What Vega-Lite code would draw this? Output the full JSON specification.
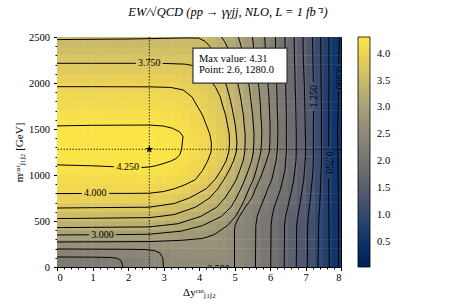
{
"$schema":"https://vega.github.io/schema/vega-lite/v6.json",
"width":284,"height":230,
"autosize":{"type":"none"},
"padding":{"left":57,"top":37,"right":116,"bottom":38},
"background":"white",
"config":{"view":{"stroke":"black","strokeWidth":1},"font":"Liberation Serif",
"axis":{"labelFont":"Liberation Serif","labelFontSize":10.5,"labelColor":"black","titleFont":"Liberation Serif","titleFontSize":11,"titleFontWeight":"normal","titleColor":"black","tickColor":"black","domainColor":"black","grid":false,"tickSize":3.5},
"legend":{"labelFont":"Liberation Serif"}},
"title":{"text":"EW/√QCD (pp → γγjj, NLO, L = 1 fb⁻¹)","font":"Liberation Serif","fontSize":12.5,"fontStyle":"italic","fontWeight":"normal","anchor":"middle","dx":29,"offset":14,"color":"black"},
"datasets":{
"grid":[
{"x":0.125,"y":50,"v":2.15},{"x":0.375,"y":50,"v":2.16},{"x":0.625,"y":50,"v":2.17},{"x":0.875,"y":50,"v":2.18},{"x":1.125,"y":50,"v":2.19},{"x":1.375,"y":50,"v":2.21},{"x":1.625,"y":50,"v":2.23},{"x":1.875,"y":50,"v":2.26},{"x":2.125,"y":50,"v":2.3},{"x":2.375,"y":50,"v":2.35},{"x":2.625,"y":50,"v":2.41},{"x":2.875,"y":50,"v":2.47},{"x":3.125,"y":50,"v":2.52},{"x":3.375,"y":50,"v":2.54},{"x":3.625,"y":50,"v":2.55},{"x":3.875,"y":50,"v":2.56},{"x":4.125,"y":50,"v":2.56},{"x":4.375,"y":50,"v":2.56},{"x":4.625,"y":50,"v":2.55},{"x":4.875,"y":50,"v":2.52},{"x":5.125,"y":50,"v":2.45},{"x":5.375,"y":50,"v":2.34},{"x":5.625,"y":50,"v":2.23},{"x":5.875,"y":50,"v":2.08},{"x":6.125,"y":50,"v":1.93},{"x":6.375,"y":50,"v":1.77},{"x":6.625,"y":50,"v":1.58},{"x":6.875,"y":50,"v":1.39},{"x":7.125,"y":50,"v":1.19},{"x":7.375,"y":50,"v":0.98},{"x":7.625,"y":50,"v":0.78},{"x":7.875,"y":50,"v":0.55},
{"x":0.125,"y":150,"v":2.37},{"x":0.375,"y":150,"v":2.37},{"x":0.625,"y":150,"v":2.38},{"x":0.875,"y":150,"v":2.38},{"x":1.125,"y":150,"v":2.39},{"x":1.375,"y":150,"v":2.4},{"x":1.625,"y":150,"v":2.41},{"x":1.875,"y":150,"v":2.42},{"x":2.125,"y":150,"v":2.44},{"x":2.375,"y":150,"v":2.46},{"x":2.625,"y":150,"v":2.48},{"x":2.875,"y":150,"v":2.5},{"x":3.125,"y":150,"v":2.55},{"x":3.375,"y":150,"v":2.58},{"x":3.625,"y":150,"v":2.6},{"x":3.875,"y":150,"v":2.62},{"x":4.125,"y":150,"v":2.63},{"x":4.375,"y":150,"v":2.63},{"x":4.625,"y":150,"v":2.62},{"x":4.875,"y":150,"v":2.56},{"x":5.125,"y":150,"v":2.45},{"x":5.375,"y":150,"v":2.34},{"x":5.625,"y":150,"v":2.23},{"x":5.875,"y":150,"v":2.08},{"x":6.125,"y":150,"v":1.93},{"x":6.375,"y":150,"v":1.77},{"x":6.625,"y":150,"v":1.58},{"x":6.875,"y":150,"v":1.39},{"x":7.125,"y":150,"v":1.19},{"x":7.375,"y":150,"v":0.98},{"x":7.625,"y":150,"v":0.78},{"x":7.875,"y":150,"v":0.55},
{"x":0.125,"y":250,"v":2.68},{"x":0.375,"y":250,"v":2.68},{"x":0.625,"y":250,"v":2.68},{"x":0.875,"y":250,"v":2.68},{"x":1.125,"y":250,"v":2.68},{"x":1.375,"y":250,"v":2.68},{"x":1.625,"y":250,"v":2.68},{"x":1.875,"y":250,"v":2.68},{"x":2.125,"y":250,"v":2.68},{"x":2.375,"y":250,"v":2.68},{"x":2.625,"y":250,"v":2.68},{"x":2.875,"y":250,"v":2.69},{"x":3.125,"y":250,"v":2.7},{"x":3.375,"y":250,"v":2.71},{"x":3.625,"y":250,"v":2.71},{"x":3.875,"y":250,"v":2.71},{"x":4.125,"y":250,"v":2.71},{"x":4.375,"y":250,"v":2.7},{"x":4.625,"y":250,"v":2.66},{"x":4.875,"y":250,"v":2.57},{"x":5.125,"y":250,"v":2.45},{"x":5.375,"y":250,"v":2.34},{"x":5.625,"y":250,"v":2.23},{"x":5.875,"y":250,"v":2.08},{"x":6.125,"y":250,"v":1.93},{"x":6.375,"y":250,"v":1.77},{"x":6.625,"y":250,"v":1.58},{"x":6.875,"y":250,"v":1.39},{"x":7.125,"y":250,"v":1.19},{"x":7.375,"y":250,"v":0.98},{"x":7.625,"y":250,"v":0.78},{"x":7.875,"y":250,"v":0.55},
{"x":0.125,"y":350,"v":3},{"x":0.375,"y":350,"v":3},{"x":0.625,"y":350,"v":3},{"x":0.875,"y":350,"v":3},{"x":1.125,"y":350,"v":3},{"x":1.375,"y":350,"v":2.99},{"x":1.625,"y":350,"v":2.99},{"x":1.875,"y":350,"v":2.99},{"x":2.125,"y":350,"v":2.99},{"x":2.375,"y":350,"v":2.98},{"x":2.625,"y":350,"v":2.98},{"x":2.875,"y":350,"v":2.96},{"x":3.125,"y":350,"v":2.93},{"x":3.375,"y":350,"v":2.89},{"x":3.625,"y":350,"v":2.86},{"x":3.875,"y":350,"v":2.84},{"x":4.125,"y":350,"v":2.81},{"x":4.375,"y":350,"v":2.76},{"x":4.625,"y":350,"v":2.68},{"x":4.875,"y":350,"v":2.57},{"x":5.125,"y":350,"v":2.45},{"x":5.375,"y":350,"v":2.34},{"x":5.625,"y":350,"v":2.23},{"x":5.875,"y":350,"v":2.08},{"x":6.125,"y":350,"v":1.93},{"x":6.375,"y":350,"v":1.77},{"x":6.625,"y":350,"v":1.58},{"x":6.875,"y":350,"v":1.39},{"x":7.125,"y":350,"v":1.19},{"x":7.375,"y":350,"v":0.98},{"x":7.625,"y":350,"v":0.78},{"x":7.875,"y":350,"v":0.55},
{"x":0.125,"y":450,"v":3.31},{"x":0.375,"y":450,"v":3.31},{"x":0.625,"y":450,"v":3.31},{"x":0.875,"y":450,"v":3.31},{"x":1.125,"y":450,"v":3.3},{"x":1.375,"y":450,"v":3.3},{"x":1.625,"y":450,"v":3.3},{"x":1.875,"y":450,"v":3.29},{"x":2.125,"y":450,"v":3.29},{"x":2.375,"y":450,"v":3.28},{"x":2.625,"y":450,"v":3.27},{"x":2.875,"y":450,"v":3.26},{"x":3.125,"y":450,"v":3.21},{"x":3.375,"y":450,"v":3.16},{"x":3.625,"y":450,"v":3.1},{"x":3.875,"y":450,"v":3.05},{"x":4.125,"y":450,"v":2.99},{"x":4.375,"y":450,"v":2.9},{"x":4.625,"y":450,"v":2.81},{"x":4.875,"y":450,"v":2.66},{"x":5.125,"y":450,"v":2.45},{"x":5.375,"y":450,"v":2.34},{"x":5.625,"y":450,"v":2.23},{"x":5.875,"y":450,"v":2.08},{"x":6.125,"y":450,"v":1.93},{"x":6.375,"y":450,"v":1.77},{"x":6.625,"y":450,"v":1.58},{"x":6.875,"y":450,"v":1.39},{"x":7.125,"y":450,"v":1.19},{"x":7.375,"y":450,"v":0.98},{"x":7.625,"y":450,"v":0.78},{"x":7.875,"y":450,"v":0.55},
{"x":0.125,"y":550,"v":3.55},{"x":0.375,"y":550,"v":3.55},{"x":0.625,"y":550,"v":3.55},{"x":0.875,"y":550,"v":3.55},{"x":1.125,"y":550,"v":3.55},{"x":1.375,"y":550,"v":3.54},{"x":1.625,"y":550,"v":3.54},{"x":1.875,"y":550,"v":3.54},{"x":2.125,"y":550,"v":3.53},{"x":2.375,"y":550,"v":3.53},{"x":2.625,"y":550,"v":3.52},{"x":2.875,"y":550,"v":3.5},{"x":3.125,"y":550,"v":3.45},{"x":3.375,"y":550,"v":3.4},{"x":3.625,"y":550,"v":3.35},{"x":3.875,"y":550,"v":3.29},{"x":4.125,"y":550,"v":3.22},{"x":4.375,"y":550,"v":3.11},{"x":4.625,"y":550,"v":3},{"x":4.875,"y":550,"v":2.85},{"x":5.125,"y":550,"v":2.52},{"x":5.375,"y":550,"v":2.38},{"x":5.625,"y":550,"v":2.26},{"x":5.875,"y":550,"v":2.11},{"x":6.125,"y":550,"v":1.96},{"x":6.375,"y":550,"v":1.79},{"x":6.625,"y":550,"v":1.61},{"x":6.875,"y":550,"v":1.42},{"x":7.125,"y":550,"v":1.21},{"x":7.375,"y":550,"v":1},{"x":7.625,"y":550,"v":0.79},{"x":7.875,"y":550,"v":0.55},
{"x":0.125,"y":650,"v":3.76},{"x":0.375,"y":650,"v":3.76},{"x":0.625,"y":650,"v":3.76},{"x":0.875,"y":650,"v":3.76},{"x":1.125,"y":650,"v":3.76},{"x":1.375,"y":650,"v":3.76},{"x":1.625,"y":650,"v":3.76},{"x":1.875,"y":650,"v":3.76},{"x":2.125,"y":650,"v":3.75},{"x":2.375,"y":650,"v":3.75},{"x":2.625,"y":650,"v":3.75},{"x":2.875,"y":650,"v":3.7},{"x":3.125,"y":650,"v":3.65},{"x":3.375,"y":650,"v":3.6},{"x":3.625,"y":650,"v":3.55},{"x":3.875,"y":650,"v":3.5},{"x":4.125,"y":650,"v":3.41},{"x":4.375,"y":650,"v":3.3},{"x":4.625,"y":650,"v":3.17},{"x":4.875,"y":650,"v":3.02},{"x":5.125,"y":650,"v":2.81},{"x":5.375,"y":650,"v":2.46},{"x":5.625,"y":650,"v":2.31},{"x":5.875,"y":650,"v":2.16},{"x":6.125,"y":650,"v":2},{"x":6.375,"y":650,"v":1.83},{"x":6.625,"y":650,"v":1.66},{"x":6.875,"y":650,"v":1.46},{"x":7.125,"y":650,"v":1.24},{"x":7.375,"y":650,"v":1.02},{"x":7.625,"y":650,"v":0.78},{"x":7.875,"y":650,"v":0.55},
{"x":0.125,"y":750,"v":3.93},{"x":0.375,"y":750,"v":3.93},{"x":0.625,"y":750,"v":3.93},{"x":0.875,"y":750,"v":3.93},{"x":1.125,"y":750,"v":3.93},{"x":1.375,"y":750,"v":3.93},{"x":1.625,"y":750,"v":3.93},{"x":1.875,"y":750,"v":3.93},{"x":2.125,"y":750,"v":3.93},{"x":2.375,"y":750,"v":3.93},{"x":2.625,"y":750,"v":3.92},{"x":2.875,"y":750,"v":3.9},{"x":3.125,"y":750,"v":3.87},{"x":3.375,"y":750,"v":3.82},{"x":3.625,"y":750,"v":3.77},{"x":3.875,"y":750,"v":3.69},{"x":4.125,"y":750,"v":3.58},{"x":4.375,"y":750,"v":3.46},{"x":4.625,"y":750,"v":3.31},{"x":4.875,"y":750,"v":3.14},{"x":5.125,"y":750,"v":2.94},{"x":5.375,"y":750,"v":2.66},{"x":5.625,"y":750,"v":2.42},{"x":5.875,"y":750,"v":2.23},{"x":6.125,"y":750,"v":2.06},{"x":6.375,"y":750,"v":1.88},{"x":6.625,"y":750,"v":1.7},{"x":6.875,"y":750,"v":1.49},{"x":7.125,"y":750,"v":1.26},{"x":7.375,"y":750,"v":1.03},{"x":7.625,"y":750,"v":0.78},{"x":7.875,"y":750,"v":0.55},
{"x":0.125,"y":850,"v":4.05},{"x":0.375,"y":850,"v":4.05},{"x":0.625,"y":850,"v":4.05},{"x":0.875,"y":850,"v":4.05},{"x":1.125,"y":850,"v":4.05},{"x":1.375,"y":850,"v":4.05},{"x":1.625,"y":850,"v":4.05},{"x":1.875,"y":850,"v":4.05},{"x":2.125,"y":850,"v":4.05},{"x":2.375,"y":850,"v":4.05},{"x":2.625,"y":850,"v":4.04},{"x":2.875,"y":850,"v":4.02},{"x":3.125,"y":850,"v":4.01},{"x":3.375,"y":850,"v":3.98},{"x":3.625,"y":850,"v":3.91},{"x":3.875,"y":850,"v":3.84},{"x":4.125,"y":850,"v":3.77},{"x":4.375,"y":850,"v":3.62},{"x":4.625,"y":850,"v":3.44},{"x":4.875,"y":850,"v":3.27},{"x":5.125,"y":850,"v":3.05},{"x":5.375,"y":850,"v":2.79},{"x":5.625,"y":850,"v":2.47},{"x":5.875,"y":850,"v":2.3},{"x":6.125,"y":850,"v":2.13},{"x":6.375,"y":850,"v":1.94},{"x":6.625,"y":850,"v":1.74},{"x":6.875,"y":850,"v":1.53},{"x":7.125,"y":850,"v":1.29},{"x":7.375,"y":850,"v":1.05},{"x":7.625,"y":850,"v":0.79},{"x":7.875,"y":850,"v":0.55},
{"x":0.125,"y":950,"v":4.14},{"x":0.375,"y":950,"v":4.14},{"x":0.625,"y":950,"v":4.14},{"x":0.875,"y":950,"v":4.14},{"x":1.125,"y":950,"v":4.14},{"x":1.375,"y":950,"v":4.14},{"x":1.625,"y":950,"v":4.14},{"x":1.875,"y":950,"v":4.14},{"x":2.125,"y":950,"v":4.145},{"x":2.375,"y":950,"v":4.15},{"x":2.625,"y":950,"v":4.15},{"x":2.875,"y":950,"v":4.13},{"x":3.125,"y":950,"v":4.1},{"x":3.375,"y":950,"v":4.07},{"x":3.625,"y":950,"v":4.03},{"x":3.875,"y":950,"v":4},{"x":4.125,"y":950,"v":3.9},{"x":4.375,"y":950,"v":3.78},{"x":4.625,"y":950,"v":3.58},{"x":4.875,"y":950,"v":3.37},{"x":5.125,"y":950,"v":3.17},{"x":5.375,"y":950,"v":2.91},{"x":5.625,"y":950,"v":2.62},{"x":5.875,"y":950,"v":2.38},{"x":6.125,"y":950,"v":2.19},{"x":6.375,"y":950,"v":1.99},{"x":6.625,"y":950,"v":1.79},{"x":6.875,"y":950,"v":1.56},{"x":7.125,"y":950,"v":1.32},{"x":7.375,"y":950,"v":1.06},{"x":7.625,"y":950,"v":0.78},{"x":7.875,"y":950,"v":0.56},
{"x":0.125,"y":1050,"v":4.22},{"x":0.375,"y":1050,"v":4.22},{"x":0.625,"y":1050,"v":4.22},{"x":0.875,"y":1050,"v":4.22},{"x":1.125,"y":1050,"v":4.225},{"x":1.375,"y":1050,"v":4.23},{"x":1.625,"y":1050,"v":4.23},{"x":1.875,"y":1050,"v":4.235},{"x":2.125,"y":1050,"v":4.24},{"x":2.375,"y":1050,"v":4.24},{"x":2.625,"y":1050,"v":4.24},{"x":2.875,"y":1050,"v":4.23},{"x":3.125,"y":1050,"v":4.21},{"x":3.375,"y":1050,"v":4.17},{"x":3.625,"y":1050,"v":4.12},{"x":3.875,"y":1050,"v":4.06},{"x":4.125,"y":1050,"v":3.99},{"x":4.375,"y":1050,"v":3.87},{"x":4.625,"y":1050,"v":3.75},{"x":4.875,"y":1050,"v":3.48},{"x":5.125,"y":1050,"v":3.27},{"x":5.375,"y":1050,"v":3.02},{"x":5.625,"y":1050,"v":2.73},{"x":5.875,"y":1050,"v":2.45},{"x":6.125,"y":1050,"v":2.24},{"x":6.375,"y":1050,"v":2.04},{"x":6.625,"y":1050,"v":1.82},{"x":6.875,"y":1050,"v":1.58},{"x":7.125,"y":1050,"v":1.34},{"x":7.375,"y":1050,"v":1.07},{"x":7.625,"y":1050,"v":0.77},{"x":7.875,"y":1050,"v":0.56},
{"x":0.125,"y":1150,"v":4.27},{"x":0.375,"y":1150,"v":4.27},{"x":0.625,"y":1150,"v":4.27},{"x":0.875,"y":1150,"v":4.27},{"x":1.125,"y":1150,"v":4.275},{"x":1.375,"y":1150,"v":4.275},{"x":1.625,"y":1150,"v":4.28},{"x":1.875,"y":1150,"v":4.28},{"x":2.125,"y":1150,"v":4.285},{"x":2.375,"y":1150,"v":4.29},{"x":2.625,"y":1150,"v":4.29},{"x":2.875,"y":1150,"v":4.28},{"x":3.125,"y":1150,"v":4.26},{"x":3.375,"y":1150,"v":4.21},{"x":3.625,"y":1150,"v":4.15},{"x":3.875,"y":1150,"v":4.09},{"x":4.125,"y":1150,"v":4.03},{"x":4.375,"y":1150,"v":3.94},{"x":4.625,"y":1150,"v":3.82},{"x":4.875,"y":1150,"v":3.61},{"x":5.125,"y":1150,"v":3.36},{"x":5.375,"y":1150,"v":3.11},{"x":5.625,"y":1150,"v":2.82},{"x":5.875,"y":1150,"v":2.53},{"x":6.125,"y":1150,"v":2.29},{"x":6.375,"y":1150,"v":2.06},{"x":6.625,"y":1150,"v":1.85},{"x":6.875,"y":1150,"v":1.61},{"x":7.125,"y":1150,"v":1.35},{"x":7.375,"y":1150,"v":1.08},{"x":7.625,"y":1150,"v":0.78},{"x":7.875,"y":1150,"v":0.55},
{"x":0.125,"y":1250,"v":4.3},{"x":0.375,"y":1250,"v":4.3},{"x":0.625,"y":1250,"v":4.3},{"x":0.875,"y":1250,"v":4.3},{"x":1.125,"y":1250,"v":4.3},{"x":1.375,"y":1250,"v":4.3},{"x":1.625,"y":1250,"v":4.3},{"x":1.875,"y":1250,"v":4.3},{"x":2.125,"y":1250,"v":4.305},{"x":2.375,"y":1250,"v":4.31},{"x":2.625,"y":1250,"v":4.31},{"x":2.875,"y":1250,"v":4.3},{"x":3.125,"y":1250,"v":4.285},{"x":3.375,"y":1250,"v":4.26},{"x":3.625,"y":1250,"v":4.22},{"x":3.875,"y":1250,"v":4.15},{"x":4.125,"y":1250,"v":4.08},{"x":4.375,"y":1250,"v":3.99},{"x":4.625,"y":1250,"v":3.87},{"x":4.875,"y":1250,"v":3.71},{"x":5.125,"y":1250,"v":3.42},{"x":5.375,"y":1250,"v":3.16},{"x":5.625,"y":1250,"v":2.89},{"x":5.875,"y":1250,"v":2.62},{"x":6.125,"y":1250,"v":2.34},{"x":6.375,"y":1250,"v":2.08},{"x":6.625,"y":1250,"v":1.85},{"x":6.875,"y":1250,"v":1.62},{"x":7.125,"y":1250,"v":1.36},{"x":7.375,"y":1250,"v":1.08},{"x":7.625,"y":1250,"v":0.78},{"x":7.875,"y":1250,"v":0.54},
{"x":0.125,"y":1350,"v":4.3},{"x":0.375,"y":1350,"v":4.3},{"x":0.625,"y":1350,"v":4.3},{"x":0.875,"y":1350,"v":4.3},{"x":1.125,"y":1350,"v":4.3},{"x":1.375,"y":1350,"v":4.3},{"x":1.625,"y":1350,"v":4.3},{"x":1.875,"y":1350,"v":4.3},{"x":2.125,"y":1350,"v":4.305},{"x":2.375,"y":1350,"v":4.31},{"x":2.625,"y":1350,"v":4.31},{"x":2.875,"y":1350,"v":4.3},{"x":3.125,"y":1350,"v":4.285},{"x":3.375,"y":1350,"v":4.265},{"x":3.625,"y":1350,"v":4.22},{"x":3.875,"y":1350,"v":4.15},{"x":4.125,"y":1350,"v":4.08},{"x":4.375,"y":1350,"v":3.99},{"x":4.625,"y":1350,"v":3.87},{"x":4.875,"y":1350,"v":3.73},{"x":5.125,"y":1350,"v":3.44},{"x":5.375,"y":1350,"v":3.17},{"x":5.625,"y":1350,"v":2.9},{"x":5.875,"y":1350,"v":2.63},{"x":6.125,"y":1350,"v":2.35},{"x":6.375,"y":1350,"v":2.09},{"x":6.625,"y":1350,"v":1.85},{"x":6.875,"y":1350,"v":1.62},{"x":7.125,"y":1350,"v":1.36},{"x":7.375,"y":1350,"v":1.08},{"x":7.625,"y":1350,"v":0.78},{"x":7.875,"y":1350,"v":0.54},
{"x":0.125,"y":1450,"v":4.28},{"x":0.375,"y":1450,"v":4.28},{"x":0.625,"y":1450,"v":4.28},{"x":0.875,"y":1450,"v":4.28},{"x":1.125,"y":1450,"v":4.28},{"x":1.375,"y":1450,"v":4.28},{"x":1.625,"y":1450,"v":4.28},{"x":1.875,"y":1450,"v":4.28},{"x":2.125,"y":1450,"v":4.285},{"x":2.375,"y":1450,"v":4.29},{"x":2.625,"y":1450,"v":4.29},{"x":2.875,"y":1450,"v":4.28},{"x":3.125,"y":1450,"v":4.27},{"x":3.375,"y":1450,"v":4.25},{"x":3.625,"y":1450,"v":4.19},{"x":3.875,"y":1450,"v":4.12},{"x":4.125,"y":1450,"v":4.05},{"x":4.375,"y":1450,"v":3.97},{"x":4.625,"y":1450,"v":3.85},{"x":4.875,"y":1450,"v":3.72},{"x":5.125,"y":1450,"v":3.44},{"x":5.375,"y":1450,"v":3.17},{"x":5.625,"y":1450,"v":2.91},{"x":5.875,"y":1450,"v":2.64},{"x":6.125,"y":1450,"v":2.36},{"x":6.375,"y":1450,"v":2.09},{"x":6.625,"y":1450,"v":1.85},{"x":6.875,"y":1450,"v":1.62},{"x":7.125,"y":1450,"v":1.36},{"x":7.375,"y":1450,"v":1.08},{"x":7.625,"y":1450,"v":0.78},{"x":7.875,"y":1450,"v":0.54},
{"x":0.125,"y":1550,"v":4.24},{"x":0.375,"y":1550,"v":4.24},{"x":0.625,"y":1550,"v":4.24},{"x":0.875,"y":1550,"v":4.24},{"x":1.125,"y":1550,"v":4.24},{"x":1.375,"y":1550,"v":4.24},{"x":1.625,"y":1550,"v":4.24},{"x":1.875,"y":1550,"v":4.24},{"x":2.125,"y":1550,"v":4.24},{"x":2.375,"y":1550,"v":4.24},{"x":2.625,"y":1550,"v":4.24},{"x":2.875,"y":1550,"v":4.24},{"x":3.125,"y":1550,"v":4.23},{"x":3.375,"y":1550,"v":4.2},{"x":3.625,"y":1550,"v":4.15},{"x":3.875,"y":1550,"v":4.08},{"x":4.125,"y":1550,"v":4.02},{"x":4.375,"y":1550,"v":3.93},{"x":4.625,"y":1550,"v":3.82},{"x":4.875,"y":1550,"v":3.66},{"x":5.125,"y":1550,"v":3.4},{"x":5.375,"y":1550,"v":3.15},{"x":5.625,"y":1550,"v":2.9},{"x":5.875,"y":1550,"v":2.64},{"x":6.125,"y":1550,"v":2.36},{"x":6.375,"y":1550,"v":2.09},{"x":6.625,"y":1550,"v":1.85},{"x":6.875,"y":1550,"v":1.62},{"x":7.125,"y":1550,"v":1.36},{"x":7.375,"y":1550,"v":1.08},{"x":7.625,"y":1550,"v":0.78},{"x":7.875,"y":1550,"v":0.54},
{"x":0.125,"y":1650,"v":4.19},{"x":0.375,"y":1650,"v":4.19},{"x":0.625,"y":1650,"v":4.19},{"x":0.875,"y":1650,"v":4.19},{"x":1.125,"y":1650,"v":4.19},{"x":1.375,"y":1650,"v":4.19},{"x":1.625,"y":1650,"v":4.19},{"x":1.875,"y":1650,"v":4.19},{"x":2.125,"y":1650,"v":4.19},{"x":2.375,"y":1650,"v":4.19},{"x":2.625,"y":1650,"v":4.19},{"x":2.875,"y":1650,"v":4.19},{"x":3.125,"y":1650,"v":4.18},{"x":3.375,"y":1650,"v":4.15},{"x":3.625,"y":1650,"v":4.1},{"x":3.875,"y":1650,"v":4.05},{"x":4.125,"y":1650,"v":3.99},{"x":4.375,"y":1650,"v":3.89},{"x":4.625,"y":1650,"v":3.8},{"x":4.875,"y":1650,"v":3.61},{"x":5.125,"y":1650,"v":3.36},{"x":5.375,"y":1650,"v":3.12},{"x":5.625,"y":1650,"v":2.87},{"x":5.875,"y":1650,"v":2.61},{"x":6.125,"y":1650,"v":2.35},{"x":6.375,"y":1650,"v":2.09},{"x":6.625,"y":1650,"v":1.85},{"x":6.875,"y":1650,"v":1.62},{"x":7.125,"y":1650,"v":1.36},{"x":7.375,"y":1650,"v":1.08},{"x":7.625,"y":1650,"v":0.78},{"x":7.875,"y":1650,"v":0.55},
{"x":0.125,"y":1750,"v":4.13},{"x":0.375,"y":1750,"v":4.13},{"x":0.625,"y":1750,"v":4.13},{"x":0.875,"y":1750,"v":4.13},{"x":1.125,"y":1750,"v":4.13},{"x":1.375,"y":1750,"v":4.13},{"x":1.625,"y":1750,"v":4.13},{"x":1.875,"y":1750,"v":4.13},{"x":2.125,"y":1750,"v":4.13},{"x":2.375,"y":1750,"v":4.13},{"x":2.625,"y":1750,"v":4.13},{"x":2.875,"y":1750,"v":4.13},{"x":3.125,"y":1750,"v":4.12},{"x":3.375,"y":1750,"v":4.09},{"x":3.625,"y":1750,"v":4.05},{"x":3.875,"y":1750,"v":4.01},{"x":4.125,"y":1750,"v":3.94},{"x":4.375,"y":1750,"v":3.85},{"x":4.625,"y":1750,"v":3.76},{"x":4.875,"y":1750,"v":3.55},{"x":5.125,"y":1750,"v":3.33},{"x":5.375,"y":1750,"v":3.1},{"x":5.625,"y":1750,"v":2.86},{"x":5.875,"y":1750,"v":2.6},{"x":6.125,"y":1750,"v":2.33},{"x":6.375,"y":1750,"v":2.08},{"x":6.625,"y":1750,"v":1.84},{"x":6.875,"y":1750,"v":1.6},{"x":7.125,"y":1750,"v":1.35},{"x":7.375,"y":1750,"v":1.08},{"x":7.625,"y":1750,"v":0.78},{"x":7.875,"y":1750,"v":0.55},
{"x":0.125,"y":1850,"v":4.07},{"x":0.375,"y":1850,"v":4.07},{"x":0.625,"y":1850,"v":4.07},{"x":0.875,"y":1850,"v":4.07},{"x":1.125,"y":1850,"v":4.07},{"x":1.375,"y":1850,"v":4.07},{"x":1.625,"y":1850,"v":4.07},{"x":1.875,"y":1850,"v":4.07},{"x":2.125,"y":1850,"v":4.07},{"x":2.375,"y":1850,"v":4.07},{"x":2.625,"y":1850,"v":4.07},{"x":2.875,"y":1850,"v":4.07},{"x":3.125,"y":1850,"v":4.06},{"x":3.375,"y":1850,"v":4.05},{"x":3.625,"y":1850,"v":4.02},{"x":3.875,"y":1850,"v":3.98},{"x":4.125,"y":1850,"v":3.9},{"x":4.375,"y":1850,"v":3.82},{"x":4.625,"y":1850,"v":3.73},{"x":4.875,"y":1850,"v":3.49},{"x":5.125,"y":1850,"v":3.29},{"x":5.375,"y":1850,"v":3.07},{"x":5.625,"y":1850,"v":2.83},{"x":5.875,"y":1850,"v":2.59},{"x":6.125,"y":1850,"v":2.32},{"x":6.375,"y":1850,"v":2.07},{"x":6.625,"y":1850,"v":1.84},{"x":6.875,"y":1850,"v":1.6},{"x":7.125,"y":1850,"v":1.35},{"x":7.375,"y":1850,"v":1.08},{"x":7.625,"y":1850,"v":0.78},{"x":7.875,"y":1850,"v":0.55},
{"x":0.125,"y":1950,"v":4},{"x":0.375,"y":1950,"v":4},{"x":0.625,"y":1950,"v":4},{"x":0.875,"y":1950,"v":4},{"x":1.125,"y":1950,"v":4},{"x":1.375,"y":1950,"v":4},{"x":1.625,"y":1950,"v":4},{"x":1.875,"y":1950,"v":4},{"x":2.125,"y":1950,"v":4},{"x":2.375,"y":1950,"v":4},{"x":2.625,"y":1950,"v":4},{"x":2.875,"y":1950,"v":4},{"x":3.125,"y":1950,"v":4},{"x":3.375,"y":1950,"v":3.99},{"x":3.625,"y":1950,"v":3.93},{"x":3.875,"y":1950,"v":3.88},{"x":4.125,"y":1950,"v":3.82},{"x":4.375,"y":1950,"v":3.77},{"x":4.625,"y":1950,"v":3.62},{"x":4.875,"y":1950,"v":3.43},{"x":5.125,"y":1950,"v":3.25},{"x":5.375,"y":1950,"v":3.04},{"x":5.625,"y":1950,"v":2.81},{"x":5.875,"y":1950,"v":2.57},{"x":6.125,"y":1950,"v":2.31},{"x":6.375,"y":1950,"v":2.07},{"x":6.625,"y":1950,"v":1.83},{"x":6.875,"y":1950,"v":1.59},{"x":7.125,"y":1950,"v":1.34},{"x":7.375,"y":1950,"v":1.07},{"x":7.625,"y":1950,"v":0.78},{"x":7.875,"y":1950,"v":0.56},
{"x":0.125,"y":2050,"v":3.91},{"x":0.375,"y":2050,"v":3.91},{"x":0.625,"y":2050,"v":3.91},{"x":0.875,"y":2050,"v":3.91},{"x":1.125,"y":2050,"v":3.91},{"x":1.375,"y":2050,"v":3.91},{"x":1.625,"y":2050,"v":3.91},{"x":1.875,"y":2050,"v":3.91},{"x":2.125,"y":2050,"v":3.91},{"x":2.375,"y":2050,"v":3.91},{"x":2.625,"y":2050,"v":3.91},{"x":2.875,"y":2050,"v":3.91},{"x":3.125,"y":2050,"v":3.91},{"x":3.375,"y":2050,"v":3.9},{"x":3.625,"y":2050,"v":3.87},{"x":3.875,"y":2050,"v":3.83},{"x":4.125,"y":2050,"v":3.79},{"x":4.375,"y":2050,"v":3.7},{"x":4.625,"y":2050,"v":3.55},{"x":4.875,"y":2050,"v":3.38},{"x":5.125,"y":2050,"v":3.2},{"x":5.375,"y":2050,"v":3},{"x":5.625,"y":2050,"v":2.77},{"x":5.875,"y":2050,"v":2.56},{"x":6.125,"y":2050,"v":2.31},{"x":6.375,"y":2050,"v":2.06},{"x":6.625,"y":2050,"v":1.82},{"x":6.875,"y":2050,"v":1.58},{"x":7.125,"y":2050,"v":1.34},{"x":7.375,"y":2050,"v":1.07},{"x":7.625,"y":2050,"v":0.78},{"x":7.875,"y":2050,"v":0.56},
{"x":0.125,"y":2150,"v":3.81},{"x":0.375,"y":2150,"v":3.81},{"x":0.625,"y":2150,"v":3.81},{"x":0.875,"y":2150,"v":3.81},{"x":1.125,"y":2150,"v":3.81},{"x":1.375,"y":2150,"v":3.81},{"x":1.625,"y":2150,"v":3.81},{"x":1.875,"y":2150,"v":3.81},{"x":2.125,"y":2150,"v":3.81},{"x":2.375,"y":2150,"v":3.81},{"x":2.625,"y":2150,"v":3.81},{"x":2.875,"y":2150,"v":3.81},{"x":3.125,"y":2150,"v":3.81},{"x":3.375,"y":2150,"v":3.81},{"x":3.625,"y":2150,"v":3.8},{"x":3.875,"y":2150,"v":3.78},{"x":4.125,"y":2150,"v":3.74},{"x":4.375,"y":2150,"v":3.63},{"x":4.625,"y":2150,"v":3.49},{"x":4.875,"y":2150,"v":3.33},{"x":5.125,"y":2150,"v":3.16},{"x":5.375,"y":2150,"v":2.96},{"x":5.625,"y":2150,"v":2.75},{"x":5.875,"y":2150,"v":2.54},{"x":6.125,"y":2150,"v":2.3},{"x":6.375,"y":2150,"v":2.05},{"x":6.625,"y":2150,"v":1.82},{"x":6.875,"y":2150,"v":1.57},{"x":7.125,"y":2150,"v":1.33},{"x":7.375,"y":2150,"v":1.07},{"x":7.625,"y":2150,"v":0.79},{"x":7.875,"y":2150,"v":0.56},
{"x":0.125,"y":2250,"v":3.71},{"x":0.375,"y":2250,"v":3.71},{"x":0.625,"y":2250,"v":3.71},{"x":0.875,"y":2250,"v":3.71},{"x":1.125,"y":2250,"v":3.71},{"x":1.375,"y":2250,"v":3.71},{"x":1.625,"y":2250,"v":3.71},{"x":1.875,"y":2250,"v":3.71},{"x":2.125,"y":2250,"v":3.71},{"x":2.375,"y":2250,"v":3.71},{"x":2.625,"y":2250,"v":3.71},{"x":2.875,"y":2250,"v":3.71},{"x":3.125,"y":2250,"v":3.71},{"x":3.375,"y":2250,"v":3.71},{"x":3.625,"y":2250,"v":3.71},{"x":3.875,"y":2250,"v":3.69},{"x":4.125,"y":2250,"v":3.64},{"x":4.375,"y":2250,"v":3.56},{"x":4.625,"y":2250,"v":3.42},{"x":4.875,"y":2250,"v":3.28},{"x":5.125,"y":2250,"v":3.11},{"x":5.375,"y":2250,"v":2.91},{"x":5.625,"y":2250,"v":2.72},{"x":5.875,"y":2250,"v":2.52},{"x":6.125,"y":2250,"v":2.29},{"x":6.375,"y":2250,"v":2.05},{"x":6.625,"y":2250,"v":1.81},{"x":6.875,"y":2250,"v":1.57},{"x":7.125,"y":2250,"v":1.33},{"x":7.375,"y":2250,"v":1.06},{"x":7.625,"y":2250,"v":0.79},{"x":7.875,"y":2250,"v":0.56},
{"x":0.125,"y":2350,"v":3.61},{"x":0.375,"y":2350,"v":3.61},{"x":0.625,"y":2350,"v":3.61},{"x":0.875,"y":2350,"v":3.61},{"x":1.125,"y":2350,"v":3.61},{"x":1.375,"y":2350,"v":3.61},{"x":1.625,"y":2350,"v":3.61},{"x":1.875,"y":2350,"v":3.61},{"x":2.125,"y":2350,"v":3.61},{"x":2.375,"y":2350,"v":3.61},{"x":2.625,"y":2350,"v":3.61},{"x":2.875,"y":2350,"v":3.61},{"x":3.125,"y":2350,"v":3.61},{"x":3.375,"y":2350,"v":3.61},{"x":3.625,"y":2350,"v":3.61},{"x":3.875,"y":2350,"v":3.59},{"x":4.125,"y":2350,"v":3.55},{"x":4.375,"y":2350,"v":3.5},{"x":4.625,"y":2350,"v":3.38},{"x":4.875,"y":2350,"v":3.24},{"x":5.125,"y":2350,"v":3.07},{"x":5.375,"y":2350,"v":2.88},{"x":5.625,"y":2350,"v":2.69},{"x":5.875,"y":2350,"v":2.5},{"x":6.125,"y":2350,"v":2.28},{"x":6.375,"y":2350,"v":2.04},{"x":6.625,"y":2350,"v":1.81},{"x":6.875,"y":2350,"v":1.56},{"x":7.125,"y":2350,"v":1.32},{"x":7.375,"y":2350,"v":1.06},{"x":7.625,"y":2350,"v":0.79},{"x":7.875,"y":2350,"v":0.56},
{"x":0.125,"y":2450,"v":3.51},{"x":0.375,"y":2450,"v":3.51},{"x":0.625,"y":2450,"v":3.51},{"x":0.875,"y":2450,"v":3.51},{"x":1.125,"y":2450,"v":3.51},{"x":1.375,"y":2450,"v":3.51},{"x":1.625,"y":2450,"v":3.51},{"x":1.875,"y":2450,"v":3.51},{"x":2.125,"y":2450,"v":3.515},{"x":2.375,"y":2450,"v":3.52},{"x":2.625,"y":2450,"v":3.52},{"x":2.875,"y":2450,"v":3.52},{"x":3.125,"y":2450,"v":3.52},{"x":3.375,"y":2450,"v":3.52},{"x":3.625,"y":2450,"v":3.52},{"x":3.875,"y":2450,"v":3.52},{"x":4.125,"y":2450,"v":3.51},{"x":4.375,"y":2450,"v":3.43},{"x":4.625,"y":2450,"v":3.29},{"x":4.875,"y":2450,"v":3.16},{"x":5.125,"y":2450,"v":3.01},{"x":5.375,"y":2450,"v":2.85},{"x":5.625,"y":2450,"v":2.67},{"x":5.875,"y":2450,"v":2.49},{"x":6.125,"y":2450,"v":2.28},{"x":6.375,"y":2450,"v":2.04},{"x":6.625,"y":2450,"v":1.8},{"x":6.875,"y":2450,"v":1.56},{"x":7.125,"y":2450,"v":1.32},{"x":7.375,"y":2450,"v":1.06},{"x":7.625,"y":2450,"v":0.79},{"x":7.875,"y":2450,"v":0.56}
],
"cont":[
{"s":"a","x":0,"y":1534},{"s":"a","x":1,"y":1540},{"s":"a","x":2,"y":1542},{"s":"a","x":2.6,"y":1543},{"s":"a","x":3,"y":1532},{"s":"a","x":3.25,"y":1508},{"s":"a","x":3.45,"y":1470},{"s":"a","x":3.55,"y":1420},{"s":"a","x":3.53,"y":1350},{"s":"a","x":3.51,"y":1280},{"s":"a","x":3.46,"y":1220},{"s":"a","x":3.35,"y":1178},{"s":"a","x":3.2,"y":1150},{"s":"a","x":3.04,"y":1130},{"s":"a","x":2.8,"y":1102},{"s":"a","x":2.6,"y":1087},{"s":"a","x":2.38,"y":1082},
{"s":"b","x":1.6,"y":1090},{"s":"b","x":1,"y":1100},{"s":"b","x":0,"y":1110},
{"s":"c","x":1.47,"y":800},{"s":"c","x":2,"y":800},{"s":"c","x":2.6,"y":802},{"s":"c","x":3,"y":820},{"s":"c","x":3.3,"y":850},{"s":"c","x":3.6,"y":893},{"s":"c","x":3.9,"y":950},{"s":"c","x":4.1,"y":1050},{"s":"c","x":4.24,"y":1150},{"s":"c","x":4.34,"y":1250},{"s":"c","x":4.35,"y":1350},{"s":"c","x":4.3,"y":1450},{"s":"c","x":4.2,"y":1550},{"s":"c","x":4.1,"y":1650},{"s":"c","x":3.95,"y":1750},{"s":"c","x":3.8,"y":1850},{"s":"c","x":3.55,"y":1925},{"s":"c","x":3.2,"y":1952},{"s":"c","x":2.6,"y":1958},{"s":"c","x":1,"y":1960},{"s":"c","x":0,"y":1960},
{"s":"d","x":0.7,"y":799},{"s":"d","x":0,"y":798},
{"s":"e","x":0,"y":2214},{"s":"e","x":1,"y":2214},{"s":"e","x":2.22,"y":2214},
{"s":"f","x":2.98,"y":2213},{"s":"f","x":3.6,"y":2205},{"s":"f","x":3.9,"y":2185},{"s":"f","x":4.1,"y":2150},{"s":"f","x":4.3,"y":2050},{"s":"f","x":4.47,"y":1950},{"s":"f","x":4.6,"y":1850},{"s":"f","x":4.67,"y":1750},{"s":"f","x":4.75,"y":1650},{"s":"f","x":4.8,"y":1550},{"s":"f","x":4.85,"y":1450},{"s":"f","x":4.86,"y":1350},{"s":"f","x":4.84,"y":1250},{"s":"f","x":4.76,"y":1150},{"s":"f","x":4.62,"y":1050},{"s":"f","x":4.45,"y":950},{"s":"f","x":4.2,"y":850},{"s":"f","x":3.73,"y":750},{"s":"f","x":3.3,"y":690},{"s":"f","x":2.6,"y":650},{"s":"f","x":1,"y":645},{"s":"f","x":0,"y":641},
{"s":"g","x":0,"y":2472},{"s":"g","x":2,"y":2478},{"s":"g","x":3,"y":2485},{"s":"g","x":3.6,"y":2490},{"s":"g","x":4,"y":2488},{"s":"g","x":4.18,"y":2450},{"s":"g","x":4.3,"y":2400},{"s":"g","x":4.38,"y":2350},{"s":"g","x":4.49,"y":2250},{"s":"g","x":4.6,"y":2150},{"s":"g","x":4.7,"y":2050},{"s":"g","x":4.79,"y":1950},{"s":"g","x":4.86,"y":1850},{"s":"g","x":4.92,"y":1750},{"s":"g","x":4.97,"y":1650},{"s":"g","x":5.02,"y":1550},{"s":"g","x":5.05,"y":1450},{"s":"g","x":5.07,"y":1350},{"s":"g","x":5.05,"y":1250},{"s":"g","x":4.97,"y":1150},{"s":"g","x":4.85,"y":1050},{"s":"g","x":4.7,"y":950},{"s":"g","x":4.53,"y":850},{"s":"g","x":4.3,"y":750},{"s":"g","x":3.9,"y":650},{"s":"g","x":3.3,"y":570},{"s":"g","x":2.9,"y":550},{"s":"g","x":2.6,"y":537},{"s":"g","x":1,"y":530},{"s":"g","x":0,"y":526},
{"s":"h","x":4.62,"y":2510},{"s":"h","x":4.72,"y":2450},{"s":"h","x":4.85,"y":2350},{"s":"h","x":4.92,"y":2250},{"s":"h","x":5,"y":2150},{"s":"h","x":5.06,"y":2050},{"s":"h","x":5.12,"y":1950},{"s":"h","x":5.17,"y":1850},{"s":"h","x":5.21,"y":1750},{"s":"h","x":5.25,"y":1650},{"s":"h","x":5.27,"y":1550},{"s":"h","x":5.3,"y":1450},{"s":"h","x":5.3,"y":1350},{"s":"h","x":5.29,"y":1250},{"s":"h","x":5.24,"y":1150},{"s":"h","x":5.15,"y":1050},{"s":"h","x":5.05,"y":950},{"s":"h","x":4.9,"y":850},{"s":"h","x":4.73,"y":750},{"s":"h","x":4.5,"y":650},{"s":"h","x":4.05,"y":550},{"s":"h","x":3.4,"y":470},{"s":"h","x":2.94,"y":450},{"s":"h","x":2.6,"y":436},{"s":"h","x":1,"y":431},{"s":"h","x":0,"y":428},
{"s":"i","x":5.1,"y":2510},{"s":"i","x":5.15,"y":2450},{"s":"i","x":5.22,"y":2350},{"s":"i","x":5.27,"y":2250},{"s":"i","x":5.32,"y":2150},{"s":"i","x":5.375,"y":2050},{"s":"i","x":5.42,"y":1950},{"s":"i","x":5.45,"y":1850},{"s":"i","x":5.48,"y":1750},{"s":"i","x":5.51,"y":1650},{"s":"i","x":5.53,"y":1550},{"s":"i","x":5.55,"y":1450},{"s":"i","x":5.545,"y":1350},{"s":"i","x":5.53,"y":1250},{"s":"i","x":5.48,"y":1150},{"s":"i","x":5.39,"y":1050},{"s":"i","x":5.29,"y":950},{"s":"i","x":5.18,"y":850},{"s":"i","x":5.05,"y":750},{"s":"i","x":4.9,"y":650},{"s":"i","x":4.63,"y":550},{"s":"i","x":4.1,"y":450},{"s":"i","x":3.5,"y":390},{"s":"i","x":2.6,"y":356},{"s":"i","x":1.66,"y":352},
{"s":"j","x":0.9,"y":350},{"s":"j","x":0,"y":348},
{"s":"k","x":5.5,"y":2510},{"s":"k","x":5.52,"y":2450},{"s":"k","x":5.55,"y":2350},{"s":"k","x":5.585,"y":2250},{"s":"k","x":5.62,"y":2150},{"s":"k","x":5.65,"y":2050},{"s":"k","x":5.69,"y":1950},{"s":"k","x":5.71,"y":1850},{"s":"k","x":5.73,"y":1750},{"s":"k","x":5.74,"y":1650},{"s":"k","x":5.76,"y":1550},{"s":"k","x":5.77,"y":1450},{"s":"k","x":5.76,"y":1350},{"s":"k","x":5.74,"y":1250},{"s":"k","x":5.68,"y":1150},{"s":"k","x":5.61,"y":1050},{"s":"k","x":5.53,"y":950},{"s":"k","x":5.41,"y":850},{"s":"k","x":5.3,"y":750},{"s":"k","x":5.18,"y":650},{"s":"k","x":5.03,"y":550},{"s":"k","x":4.8,"y":450},{"s":"k","x":4.42,"y":350},{"s":"k","x":4.1,"y":310},{"s":"k","x":3.5,"y":290},{"s":"k","x":2.6,"y":276},{"s":"k","x":0,"y":272},
{"s":"l","x":5.85,"y":2510},{"s":"l","x":5.86,"y":2450},{"s":"l","x":5.87,"y":2350},{"s":"l","x":5.9,"y":2250},{"s":"l","x":5.92,"y":2150},{"s":"l","x":5.94,"y":2050},{"s":"l","x":5.95,"y":1950},{"s":"l","x":5.97,"y":1850},{"s":"l","x":5.98,"y":1750},{"s":"l","x":5.99,"y":1650},{"s":"l","x":6,"y":1550},{"s":"l","x":6,"y":1450},{"s":"l","x":5.995,"y":1350},{"s":"l","x":5.98,"y":1250},{"s":"l","x":5.9,"y":1150},{"s":"l","x":5.81,"y":1050},{"s":"l","x":5.71,"y":950},{"s":"l","x":5.59,"y":850},{"s":"l","x":5.5,"y":760},{"s":"l","x":5.4,"y":700},{"s":"l","x":5.3,"y":650},{"s":"l","x":5.14,"y":550},{"s":"l","x":5.02,"y":460},{"s":"l","x":5,"y":400},{"s":"l","x":5,"y":0},
{"s":"m","x":0,"y":196},{"s":"m","x":2,"y":193},{"s":"m","x":2.5,"y":190},{"s":"m","x":2.75,"y":178},{"s":"m","x":2.9,"y":150},{"s":"m","x":2.98,"y":100},{"s":"m","x":3,"y":0},
{"s":"n","x":6.155,"y":2510},{"s":"n","x":6.16,"y":2350},{"s":"n","x":6.17,"y":2250},{"s":"n","x":6.18,"y":2150},{"s":"n","x":6.19,"y":2050},{"s":"n","x":6.19,"y":1950},{"s":"n","x":6.2,"y":1850},{"s":"n","x":6.2,"y":1750},{"s":"n","x":6.21,"y":1650},{"s":"n","x":6.22,"y":1550},{"s":"n","x":6.22,"y":1450},{"s":"n","x":6.215,"y":1350},{"s":"n","x":6.2,"y":1250},{"s":"n","x":6.17,"y":1150},{"s":"n","x":6.11,"y":1050},{"s":"n","x":6.05,"y":950},{"s":"n","x":5.94,"y":850},{"s":"n","x":5.84,"y":750},{"s":"n","x":5.73,"y":650},{"s":"n","x":5.64,"y":550},{"s":"n","x":5.6,"y":450},{"s":"n","x":5.59,"y":0},
{"s":"p","x":0,"y":109},{"s":"p","x":1,"y":107},{"s":"p","x":1.5,"y":104},{"s":"p","x":1.7,"y":95},{"s":"p","x":1.8,"y":70},{"s":"p","x":1.84,"y":30},{"s":"p","x":1.85,"y":0},
{"s":"q","x":6.42,"y":2510},{"s":"q","x":6.425,"y":2350},{"s":"q","x":6.43,"y":2250},{"s":"q","x":6.435,"y":2150},{"s":"q","x":6.44,"y":2050},{"s":"q","x":6.445,"y":1950},{"s":"q","x":6.45,"y":1850},{"s":"q","x":6.455,"y":1750},{"s":"q","x":6.46,"y":1650},{"s":"q","x":6.46,"y":1450},{"s":"q","x":6.46,"y":1250},{"s":"q","x":6.44,"y":1150},{"s":"q","x":6.42,"y":1050},{"s":"q","x":6.36,"y":950},{"s":"q","x":6.3,"y":850},{"s":"q","x":6.21,"y":750},{"s":"q","x":6.12,"y":650},{"s":"q","x":6.06,"y":550},{"s":"q","x":6.03,"y":450},{"s":"q","x":6.02,"y":0},
{"s":"r","x":6.68,"y":2510},{"s":"r","x":6.685,"y":2350},{"s":"r","x":6.69,"y":2250},{"s":"r","x":6.7,"y":2150},{"s":"r","x":6.705,"y":2050},{"s":"r","x":6.71,"y":1950},{"s":"r","x":6.72,"y":1850},{"s":"r","x":6.725,"y":1750},{"s":"r","x":6.73,"y":1650},{"s":"r","x":6.735,"y":1550},{"s":"r","x":6.74,"y":1450},{"s":"r","x":6.74,"y":1250},{"s":"r","x":6.73,"y":1150},{"s":"r","x":6.7,"y":1050},{"s":"r","x":6.67,"y":950},{"s":"r","x":6.62,"y":850},{"s":"r","x":6.56,"y":750},{"s":"r","x":6.5,"y":650},{"s":"r","x":6.44,"y":550},{"s":"r","x":6.41,"y":450},{"s":"r","x":6.4,"y":0},
{"s":"t","x":6.93,"y":2510},{"s":"t","x":6.935,"y":2350},{"s":"t","x":6.94,"y":2250},{"s":"t","x":6.95,"y":2150},{"s":"t","x":6.96,"y":2050},{"s":"t","x":6.97,"y":1950},{"s":"t","x":6.975,"y":1850},{"s":"t","x":6.98,"y":1750},{"s":"t","x":6.985,"y":1650},{"s":"t","x":6.99,"y":1550},{"s":"t","x":7,"y":1350},{"s":"t","x":7,"y":1250},{"s":"t","x":6.99,"y":1150},{"s":"t","x":6.97,"y":1050},{"s":"t","x":6.95,"y":950},{"s":"t","x":6.91,"y":850},{"s":"t","x":6.87,"y":750},{"s":"t","x":6.83,"y":650},{"s":"t","x":6.78,"y":550},{"s":"t","x":6.75,"y":450},{"s":"t","x":6.74,"y":0},
{"s":"u","x":7.2,"y":2510},{"s":"u","x":7.205,"y":2350},{"s":"u","x":7.21,"y":2250},{"s":"u","x":7.215,"y":2150},{"s":"u","x":7.22,"y":2050},{"s":"u","x":7.225,"y":2010},
{"s":"w","x":7.23,"y":1700},{"s":"w","x":7.225,"y":1650},{"s":"w","x":7.22,"y":1550},{"s":"w","x":7.22,"y":1250},{"s":"w","x":7.22,"y":1150},{"s":"w","x":7.21,"y":1050},{"s":"w","x":7.19,"y":950},{"s":"w","x":7.16,"y":850},{"s":"w","x":7.14,"y":750},{"s":"w","x":7.11,"y":650},{"s":"w","x":7.08,"y":550},{"s":"w","x":7.06,"y":450},{"s":"w","x":7.05,"y":0},
{"s":"z","x":7.43,"y":2510},{"s":"z","x":7.435,"y":2200},{"s":"z","x":7.44,"y":2000},{"s":"z","x":7.445,"y":1800},{"s":"z","x":7.45,"y":1500},{"s":"z","x":7.45,"y":1150},{"s":"z","x":7.44,"y":1050},{"s":"z","x":7.43,"y":950},{"s":"z","x":7.42,"y":850},{"s":"z","x":7.41,"y":750},{"s":"z","x":7.4,"y":650},{"s":"z","x":7.38,"y":550},{"s":"z","x":7.37,"y":450},{"s":"z","x":7.35,"y":0},
{"s":"A","x":7.66,"y":2510},{"s":"A","x":7.66,"y":2000},{"s":"A","x":7.655,"y":1600},{"s":"A","x":7.65,"y":1310},
{"s":"B","x":7.65,"y":960},{"s":"B","x":7.655,"y":700},{"s":"B","x":7.66,"y":500},{"s":"B","x":7.67,"y":0},
{"s":"C","x":7.95,"y":2510},{"s":"C","x":7.945,"y":2350},{"s":"C","x":7.935,"y":2200},
{"s":"D","x":7.93,"y":1910},{"s":"D","x":7.92,"y":1700},{"s":"D","x":7.9,"y":1500},{"s":"D","x":7.91,"y":1300},{"s":"D","x":7.92,"y":1000},{"s":"D","x":7.93,"y":500},{"s":"D","x":7.93,"y":0}
],
"lab":[{"x":2.6,"y":2214,"t":"3.750"},{"x":1.99,"y":1083,"t":"4.250"},{"x":1.08,"y":799,"t":"4.000"},{"x":1.28,"y":350,"t":"3.000"}],
"lowlab":[{"x":4.55,"y":-25,"t":"2.500"}],
"r270":[{"x":7.24,"y":1855,"t":"1.250"}],
"r90":[{"x":7.65,"y":1135,"t":"0.750"},{"x":7.94,"y":2055,"t":"0.500"}],
"box":[{"x":3.83,"x2":6.48,"y":1999,"y2":2380}],
"note":[{"x":4.0,"y":2257,"t":"Max value: 4.31"},{"x":4.0,"y":2140,"t":"Point: 2.6, 1280.0"}],
"peak":[{"x":2.6,"y":1280}]
},
"resolve":{"axis":{"x":"independent","y":"independent"}},
"layer":[
{"data":{"name":"grid"},"mark":{"type":"rect","width":9.3,"height":9.6,"clip":true,"strokeWidth":0},
"encoding":{
"x":{"field":"x","type":"quantitative","scale":{"domain":[0,8],"nice":false,"zero":false},"axis":{"orient":"bottom","values":[0,1,2,3,4,5,6,7,8],"format":"d","title":"Δyᶜᵘᵗⱼ₁ⱼ₂","titlePadding":3,"labelPadding":2,"labelFont":"Liberation Serif","titleFont":"Liberation Serif","labelFontSize":10.5}},
"y":{"field":"y","type":"quantitative","scale":{"domain":[0,2500],"nice":false,"zero":false},"axis":{"orient":"left","values":[0,500,1000,1500,2000,2500],"format":"d","title":"mᶜᵘᵗⱼ₁ⱼ₂ [GeV]","titlePadding":4,"labelPadding":4,"labelFont":"Liberation Serif","titleFont":"Liberation Serif","labelFontSize":10.5}},
"color":{"field":"v","type":"quantitative","scale":{"scheme":"cividis","domain":[0.03,4.31]},"legend":{"title":null,"orient":"right","offset":17,"direction":"vertical","gradientLength":230,"gradientThickness":12,"values":[0.5,1,1.5,2,2.5,3,3.5,4],"format":".1f","labelFont":"Liberation Serif","labelFontSize":10.5,"labelColor":"black","labelOffset":7,"gradientStrokeColor":"black","gradientStrokeWidth":0.8}}}},
{"data":{"name":"cont"},"mark":{"type":"line","color":"black","strokeWidth":1,"clip":true},
"encoding":{"x":{"field":"x","type":"quantitative","axis":null},"y":{"field":"y","type":"quantitative","axis":null},"detail":{"field":"s"},"order":{"value":null}}},
{"data":{"name":"peak"},"mark":{"type":"rule","color":"black","strokeWidth":0.8,"strokeDash":[1.5,1.5]},"encoding":{"x":{"field":"x","type":"quantitative","axis":null}}},
{"data":{"name":"peak"},"mark":{"type":"rule","color":"black","strokeWidth":0.8,"strokeDash":[1.5,1.5]},"encoding":{"y":{"field":"y","type":"quantitative","axis":null}}},
{"data":{"name":"peak"},"mark":{"type":"point","shape":"M0,-1L0.2245,-0.309L0.951,-0.309L0.363,0.118L0.588,0.809L0,0.382L-0.588,0.809L-0.363,0.118L-0.951,-0.309L-0.2245,-0.309Z","filled":true,"color":"black","size":70,"opacity":1},
"encoding":{
"x":{"field":"x","type":"quantitative","axis":{"orient":"bottom","values":[0.2,0.4,0.6,0.8,1.2,1.4,1.6,1.8,2.2,2.4,2.6,2.8,3.2,3.4,3.6,3.8,4.2,4.4,4.6,4.8,5.2,5.4,5.6,5.8,6.2,6.4,6.6,6.8,7.2,7.4,7.6,7.8],"labels":false,"tickSize":2,"domain":false,"title":null}},
"y":{"field":"y","type":"quantitative","axis":{"orient":"left","values":[100,200,300,400,600,700,800,900,1100,1200,1300,1400,1600,1700,1800,1900,2100,2200,2300,2400],"labels":false,"tickSize":2,"domain":false,"title":null}}}},
{"data":{"name":"box"},"mark":{"type":"rect","fill":"white","stroke":"#333333","strokeWidth":1.2},
"encoding":{"x":{"field":"x","type":"quantitative","axis":null},"x2":{"field":"x2"},"y":{"field":"y","type":"quantitative","axis":null},"y2":{"field":"y2"}}},
{"data":{"name":"note"},"mark":{"type":"text","align":"left","baseline":"middle","font":"Liberation Serif","fontSize":10.5,"color":"black"},
"encoding":{"x":{"field":"x","type":"quantitative","axis":null},"y":{"field":"y","type":"quantitative","axis":null},"text":{"field":"t"}}},
{"data":{"name":"lab"},"mark":{"type":"text","align":"center","baseline":"middle","font":"Liberation Serif","fontSize":10,"color":"black","clip":true},
"encoding":{"x":{"field":"x","type":"quantitative","axis":null},"y":{"field":"y","type":"quantitative","axis":null},"text":{"field":"t"}}},
{"data":{"name":"lowlab"},"mark":{"type":"text","align":"center","baseline":"middle","font":"Liberation Serif","fontSize":10,"color":"black","clip":true},
"encoding":{"x":{"field":"x","type":"quantitative","axis":null},"y":{"field":"y","type":"quantitative","axis":null},"text":{"field":"t"}}},
{"data":{"name":"r270"},"mark":{"type":"text","align":"center","baseline":"middle","font":"Liberation Serif","fontSize":10,"color":"black","angle":270,"clip":true},
"encoding":{"x":{"field":"x","type":"quantitative","axis":null},"y":{"field":"y","type":"quantitative","axis":null},"text":{"field":"t"}}},
{"data":{"name":"r90"},"mark":{"type":"text","align":"center","baseline":"middle","font":"Liberation Serif","fontSize":10,"color":"black","angle":90,"clip":true},
"encoding":{"x":{"field":"x","type":"quantitative","axis":null},"y":{"field":"y","type":"quantitative","axis":null},"text":{"field":"t"}}}
]
}
